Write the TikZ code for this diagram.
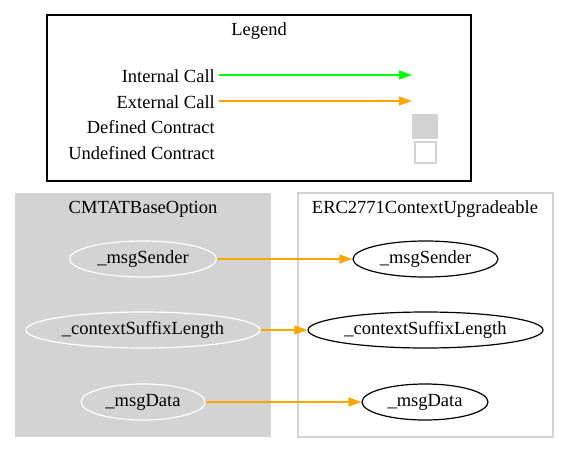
\documentclass[tikz,border=0pt]{standalone}
\usepackage{fontspec}
\setmainfont{Liberation Serif}
\usetikzlibrary{shapes.geometric,arrows.meta}

\definecolor{clustergray}{RGB}{211,211,211}
\definecolor{callgreen}{RGB}{0,255,0}
\definecolor{callorange}{RGB}{255,165,0}

\tikzset{
  func/.style={ellipse, draw, line width=1.2pt, minimum height=36pt, inner sep=0pt, font=\fontsize{18.5}{20}\selectfont},
  deffunc/.style={func, draw=white},
  lbl/.style={font=\fontsize{18.5}{20}\selectfont, inner sep=0pt, yshift=-1.5pt},
  call/.style={-{Triangle[length=13pt,width=9pt]}, line width=1.3pt},
}

\begin{document}
\begin{tikzpicture}[x=1pt, y=-1pt]
    \useasboundingbox (0,0) rectangle (569,453);

    % Legend
    \draw[line width=1.3pt] (47,15) rectangle (471,181);
    \node[lbl] (legend) at (259,30) {Legend};
    \node[lbl, anchor=east] (intcall) at (215,75) {Internal Call};
    \node[lbl, anchor=east] (extcall) at (215,101) {External Call};
    \node[lbl, anchor=east] (defc) at (215,126) {Defined Contract};
    \node[lbl, anchor=east] (undefc) at (215,152) {Undefined Contract};
    \coordinate (intstart) at (219,75);
    \coordinate (intend) at (412,75);
    \coordinate (extstart) at (219,101);
    \coordinate (extend) at (412,101);
    \draw[call, callgreen] (intstart) -- (intend);
    \draw[call, callorange] (extstart) -- (extend);
    \fill[clustergray] (412,114) rectangle (438,139);
    \draw[clustergray, line width=1.3pt] (415,142) rectangle (436,163);

    % Cluster 1
    \fill[clustergray] (15,193) rectangle (271,437);
    \node[lbl] (c1title) at (143,208) {CMTATBaseOption};
    \node[deffunc, minimum width=147pt] (c1send) at (143,259) {\_msgSender};
    \node[deffunc, minimum width=234pt] (c1suffix) at (143,330) {\_contextSuffixLength};
    \node[deffunc, minimum width=124pt] (c1data) at (143,402) {\_msgData};

    % Cluster 2
    \draw[clustergray, line width=1.3pt] (298,193) rectangle (553,437);
    \node[lbl] (c2title) at (425,208) {ERC2771ContextUpgradeable};
    \node[func, minimum width=145pt] (c2send) at (425.5,259) {\_msgSender};
    \node[func, minimum width=235pt] (c2suffix) at (425.5,330) {\_contextSuffixLength};
    \node[func, minimum width=126pt] (c2data) at (425,402) {\_msgData};

    % Calls
    \draw[call, callorange] (c1send) -- (c2send);
    \draw[call, callorange] (c1suffix) -- (c2suffix);
    \draw[call, callorange] (c1data) -- (c2data);
\end{tikzpicture}
\end{document}
